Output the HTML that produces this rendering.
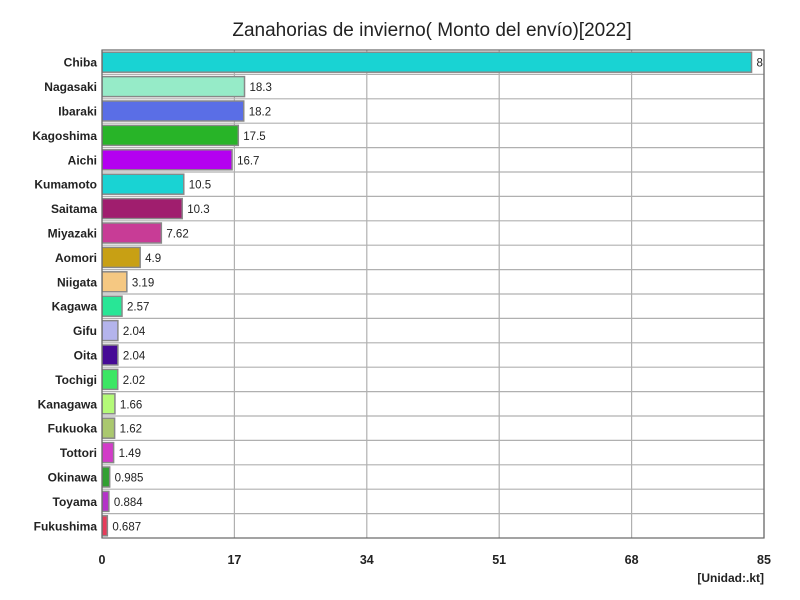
<!DOCTYPE html>
<html><head><meta charset="utf-8"><style>
body{margin:0;background:#fff;font-family:"Liberation Sans",sans-serif}
svg{display:block}
</style></head><body>
<svg id="c" width="800" height="600">
<defs><clipPath id="pc"><rect x="102" y="50" width="662" height="488"/></clipPath></defs>
<text x="432" y="36" text-anchor="middle" font-size="19" fill="#222">Zanahorias de invierno( Monto del envío)[2022]</text>
<g id="grid"></g><g id="bars" clip-path="url(#pc)"></g><g id="labels"></g>
<rect x="102" y="50" width="662" height="488" fill="none" stroke="#666" stroke-width="1.2"/>
<text x="764" y="582" text-anchor="end" font-size="12" font-weight="bold" fill="#222">[Unidad:.kt]</text>
</svg>
<script>
const categories=["Chiba","Nagasaki","Ibaraki","Kagoshima","Aichi","Kumamoto","Saitama","Miyazaki","Aomori","Niigata","Kagawa","Gifu","Oita","Tochigi","Kanagawa","Fukuoka","Tottori","Okinawa","Toyama","Fukushima"];
const values=[83.4,18.3,18.2,17.5,16.7,10.5,10.3,7.62,4.9,3.19,2.57,2.04,2.04,2.02,1.66,1.62,1.49,0.985,0.884,0.687];
const valueLabels=["83.4","18.3","18.2","17.5","16.7","10.5","10.3","7.62","4.9","3.19","2.57","2.04","2.04","2.02","1.66","1.62","1.49","0.985","0.884","0.687"];
const colors=["#19d3d3","#96ebc8","#5a6ee6","#28b428","#b400f0","#19d3d3","#a01e6e","#c83c96","#c8a014","#f5c882","#28e696","#b4b4ec","#460a96","#3ce664","#b4fa78","#aac86e","#d23cc8","#32a032","#b432c8","#e63c5a"];
const ticks=[0,17,34,51,68,85];
const X0=102,X1=764,Y0=50,Y1=538,MAX=85;
const xs=v=>X0+v/MAX*(X1-X0);
const pitch=(Y1-Y0)/categories.length;
const yc=i=>Y0+pitch*(i+0.5);
const NS="http://www.w3.org/2000/svg";
function mk(t,a,p){const e=document.createElementNS(NS,t);for(const k in a)e.setAttribute(k,a[k]);p.appendChild(e);return e;}
const grid=document.getElementById('grid'),bars=document.getElementById('bars'),labels=document.getElementById('labels');
ticks.forEach(t=>{
 const l=mk('line',{x1:xs(t),x2:xs(t),y1:Y0,y2:Y1,stroke:'#b0b0b0','stroke-width':1.2},grid);
 
 
 const tx=mk('text',{x:xs(t),y:Y1+26,'text-anchor':'middle','font-size':12.5,'font-weight':'bold',fill:'#222'},labels);
 tx.textContent=t;
 
 
});
categories.forEach((c,i)=>{
 if(i>0){const l=mk('line',{x1:X0,x2:X1,y1:Y0+pitch*i,y2:Y0+pitch*i,stroke:'#b0b0b0','stroke-width':1.2},grid);
 
 }
 const r=mk('rect',{x:X0,y:yc(i)-10,width:xs(values[i])-X0,height:20,fill:colors[i],stroke:'#888','stroke-width':1.5},bars);
 
 
 const v=mk('text',{x:xs(values[i])+5,y:yc(i)+4.5,'font-size':11.5,fill:'#222'},bars);
 v.textContent=valueLabels[i];
 
 
 const t=mk('text',{x:X0-5,y:yc(i)+4.5,'text-anchor':'end','font-size':12,'font-weight':'bold',fill:'#222'},labels);
 t.textContent=c;
 
 
});
</script>
</body></html>
